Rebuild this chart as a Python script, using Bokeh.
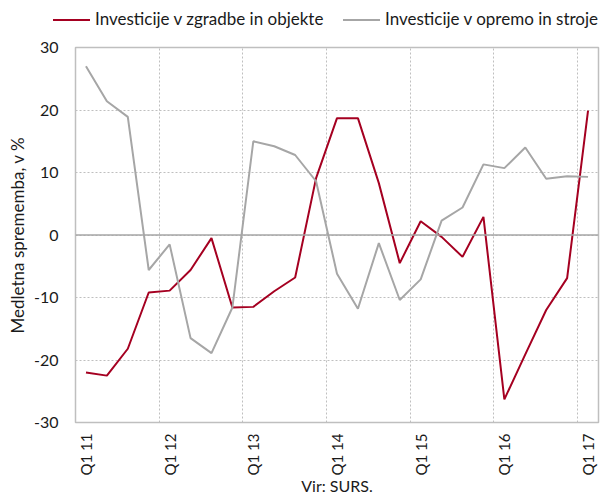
import math
from bokeh.plotting import figure
from bokeh.layouts import column
from bokeh.models import (ColumnDataSource, FixedTicker, Span, Div)
from bokeh.embed import file_html
from bokeh.resources import INLINE

quarters = ["Q1 11", "Q2 11", "Q3 11", "Q4 11",
            "Q1 12", "Q2 12", "Q3 12", "Q4 12",
            "Q1 13", "Q2 13", "Q3 13", "Q4 13",
            "Q1 14", "Q2 14", "Q3 14", "Q4 14",
            "Q1 15", "Q2 15", "Q3 15", "Q4 15",
            "Q1 16", "Q2 16", "Q3 16", "Q4 16",
            "Q1 17"]
zgradbe = [-22.0, -22.5, -18.2, -9.2, -8.9, -5.6, -0.5, -11.6, -11.5, -9.0, -6.8, 9.1,
           18.7, 18.7, 8.3, -4.5, 2.2, -0.3, -3.5, 2.9, -26.3, -19.1, -12.0, -6.9, 19.9]
oprema = [27.0, 21.4, 18.9, -5.6, -1.5, -16.5, -18.9, -11.6, 15.0, 14.2, 12.8, 8.6,
          -6.2, -11.8, -1.3, -10.4, -7.1, 2.3, 4.4, 11.3, 10.7, 14.0, 9.0, 9.4, 9.3]
series_names = ["Investicije v zgradbe in objekte", "Investicije v opremo in stroje"]
y_ticks = [-30, -20, -10, 0, 10, 20, 30]
y_tick_labels = ["-30", "-20", "-10", "0", "10", "20", "30"]
source_note = "Vir: SURS."

FONT = "Lato"
RED = "#a50021"
GREY = "#a6a6a6"
TXT = "#1a1a1a"
W = 600

xs = list(range(len(quarters)))
src = ColumnDataSource(dict(x=xs, z=zgradbe, o=oprema))

# ---- legend strip (HTML, above the chart) ----
def legend_entry(color, label, line_left, text_left):
    return (f'<div style="position:absolute;left:{line_left}px;top:19px;width:37px;'
            f'border-top:2px solid {color};"></div>'
            f'<div style="position:absolute;left:{text_left}px;top:9px;line-height:20px;'
            f'white-space:nowrap;">{label}</div>')

legend_html = (f'<div style="position:relative;width:{W}px;height:30px;font-family:{FONT};'
               f'font-size:17px;color:{TXT};">'
               + legend_entry(RED, series_names[0], 53, 95)
               + legend_entry(GREY, series_names[1], 343, 385)
               + '</div>')
legend_div = Div(text=legend_html, width=W, height=30, margin=(0, 0, 0, 0))

# ---- main chart ----
p = figure(width=W, height=468, output_backend="svg", toolbar_location=None,
           x_range=(-0.5, len(quarters) - 0.5), y_range=(-30, 30),
           min_border_left=75, min_border_right=2, min_border_top=17, min_border_bottom=0,
           margin=(0, 0, 0, 0))
p.title.visible = False

p.line("x", "z", source=src, line_color=RED, line_width=2)
p.line("x", "o", source=src, line_color=GREY, line_width=2)

p.add_layout(Span(location=0, dimension="width", line_color="#a6a6a6", line_width=1.5))

p.outline_line_color = "#bfbfbf"
p.outline_line_width = 1.5

# x axis
p.xaxis.ticker = FixedTicker(ticks=[i for i in xs if i % 4 == 0])
p.xaxis.major_label_overrides = {i: quarters[i] for i in xs}
p.xaxis.major_label_orientation = math.pi / 2
p.xaxis.axis_line_color = None
p.xaxis.major_tick_line_color = None
p.xaxis.major_tick_out = 0
p.xaxis.major_tick_in = 0
p.xaxis.minor_tick_line_color = None
p.xaxis.major_label_text_font = FONT
p.xaxis.major_label_text_font_size = "15px"
p.xaxis.major_label_text_color = TXT
p.xaxis.major_label_standoff = 11
p.xaxis.axis_label = source_note
p.xaxis.axis_label_text_font = FONT
p.xaxis.axis_label_text_font_size = "16px"
p.xaxis.axis_label_text_font_style = "normal"
p.xaxis.axis_label_text_color = TXT
p.xaxis.axis_label_standoff = -2

p.xgrid.ticker = FixedTicker(ticks=[i - 0.5 for i in xs if i % 4 == 0 and i > 0])
p.xgrid.grid_line_color = "#bfbfbf"
p.xgrid.grid_line_dash = "2 2"
p.xgrid.grid_line_width = 1

# y axis
p.yaxis.ticker = FixedTicker(ticks=y_ticks)
p.yaxis.major_label_overrides = dict(zip(y_ticks, y_tick_labels))
p.yaxis.axis_line_color = None
p.yaxis.major_tick_line_color = None
p.yaxis.major_tick_out = 0
p.yaxis.major_tick_in = 0
p.yaxis.minor_tick_line_color = None
p.yaxis.major_label_text_font = FONT
p.yaxis.major_label_text_font_size = "16px"
p.yaxis.major_label_text_color = TXT
p.yaxis.major_label_standoff = 17
p.yaxis.axis_label = "Medletna sprememba, v %"
p.yaxis.axis_label_text_font = FONT
p.yaxis.axis_label_text_font_size = "17px"
p.yaxis.axis_label_text_font_style = "normal"
p.yaxis.axis_label_text_color = TXT
p.yaxis.axis_label_standoff = 3

p.ygrid.grid_line_color = "#bfbfbf"
p.ygrid.grid_line_dash = "2 2"
p.ygrid.grid_line_width = 1

layout = column(legend_div, p, spacing=0)
open("out.html", "w").write(file_html(layout, INLINE))
